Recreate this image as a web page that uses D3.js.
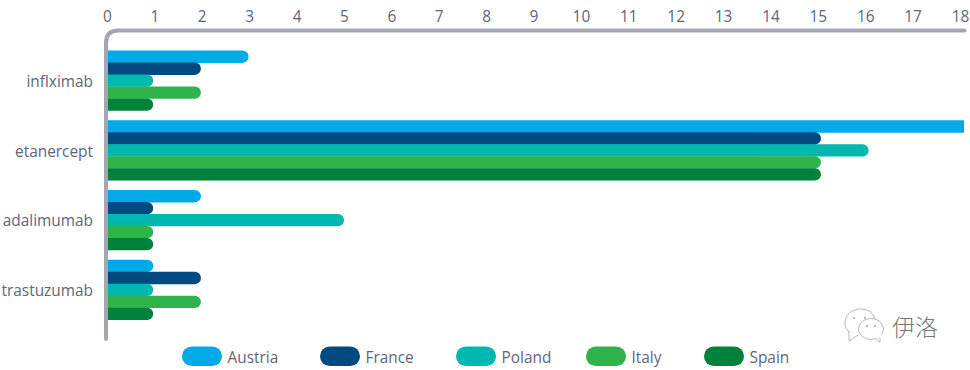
<!DOCTYPE html>
<html>
<head>
<meta charset="utf-8">
<script src="https://cdn.jsdelivr.net/npm/d3@7"></script>
<style>
  html, body { margin: 0; padding: 0; background: #fff; }
  svg { display: block; font-family: "Open Sans", "Noto Sans", sans-serif; }
</style>
</head>
<body>
<svg id="chart" width="970" height="370"></svg>
<script>
const drugs = ['inflximab', 'etanercept', 'adalimumab', 'trastuzumab'];
const countries = ['Austria', 'France', 'Poland', 'Italy', 'Spain'];
const colors = ['#00aae7', '#004a80', '#00b8b0', '#2fb44b', '#00813c'];
const austria = [3, 18, 2, 1];
const france = [2, 15, 1, 2];
const poland = [1, 16, 5, 1];
const italy = [2, 15, 1, 2];
const spain = [1, 15, 1, 1];
const seriesValues = [austria, france, poland, italy, spain];
const xTicks = d3.range(0, 19);

const TEXT_COLOR = '#60667a';
const AXIS_COLOR = '#a5a6b2';
const FONT_SIZE = '15.4px';

const svg = d3.select('#chart');

const X_SCALE = d3.scaleLinear().domain([0, 18]).range([105.5, 964]);
// tick labels sit slightly tighter than the bars, so the last one stays inside
const TICK_SCALE = d3.scaleLinear().domain([0, 18]).range([107, 960]);
const Y_SCALE = d3.scaleBand().domain(drugs).range([45.6, 324.6]).paddingInner(0.14).paddingOuter(0.07);
const INNER_SCALE = d3.scaleBand().domain(countries).range([0, Y_SCALE.bandwidth()]);

// bars end with a flat edge at the right limit of the plot
svg.append('clipPath').attr('id', 'plot-clip')
  .append('rect')
  .attr('x', X_SCALE(0))
  .attr('y', 0)
  .attr('width', X_SCALE(18) - X_SCALE(0))
  .attr('height', 370);

const barGroup = svg.append('g').attr('clip-path', 'url(#plot-clip)');

countries.forEach((country, s) => {
  barGroup.append('g')
    .selectAll('rect')
    .data(seriesValues[s])
    .join('rect')
    .attr('x', X_SCALE(0) - 10)
    .attr('y', (d, i) => Y_SCALE(drugs[i]) + INNER_SCALE(country))
    .attr('width', d => X_SCALE(d) - X_SCALE(0) + 10 + (d === 18 ? 8 : 0))
    .attr('height', INNER_SCALE.bandwidth() + 0.4)
    .attr('rx', 6)
    .attr('fill', colors[s]);
});

// axis frame, rounded at the top left corner
const frame = d3.path();
frame.moveTo(106, 339);
frame.lineTo(106, 43);
frame.quadraticCurveTo(106, 30.5, 118, 30.5);
frame.lineTo(964.5, 30.5);
svg.append('path')
  .attr('d', frame.toString())
  .attr('fill', 'none')
  .attr('stroke', AXIS_COLOR)
  .attr('stroke-width', 4)
  .attr('stroke-linecap', 'round');

const xAxis = svg.append('g')
  .attr('transform', 'translate(0,21.5)')
  .call(d3.axisTop(TICK_SCALE).tickValues(xTicks).tickFormat(d3.format('d')).tickSize(0).tickPadding(0));
xAxis.select('.domain').remove();
xAxis.selectAll('text')
  .attr('fill', TEXT_COLOR)
  .style('font-size', FONT_SIZE)
  .style('font-family', '"Open Sans", sans-serif');

const yAxis = svg.append('g')
  .attr('transform', 'translate(93,1.5)')
  .call(d3.axisLeft(Y_SCALE).tickSize(0).tickPadding(0));
yAxis.select('.domain').remove();
yAxis.selectAll('text')
  .attr('fill', TEXT_COLOR)
  .style('font-size', FONT_SIZE)
  .style('font-family', '"Open Sans", sans-serif');

// legend
const legendX = [182, 320, 456, 586, 704];
const legend = svg.append('g')
  .selectAll('g')
  .data(countries)
  .join('g')
  .attr('transform', (d, i) => `translate(${legendX[i]},346.5)`);

legend.append('rect')
  .attr('width', 40)
  .attr('height', 19.5)
  .attr('rx', 9.75)
  .attr('fill', (d, i) => colors[i]);

legend.append('text')
  .text(d => d)
  .attr('x', 45.5)
  .attr('y', 16.5)
  .attr('fill', TEXT_COLOR)
  .style('font-size', FONT_SIZE);

// watermark
const mark = svg.append('g')
  .attr('transform', 'translate(0,-10)')
  .attr('fill', '#fff')
  .attr('stroke', '#9a9a9a')
  .attr('stroke-width', 0.7);
mark.append('path').attr('d', 'M 856 346 C 848 343 845 338 845 333 C 845 325 852 319 860 319 C 868 319 874 323 875 330');
mark.append('path').attr('d', 'M 849 341 L 849 351 L 858 345');
mark.append('ellipse').attr('cx', 871).attr('cy', 339).attr('rx', 12.5).attr('ry', 10.5);
mark.append('path').attr('d', 'M 876 349 L 880 342 L 881 346').attr('stroke', 'none');
mark.append('path').attr('d', 'M 876 349.3 L 880 352.5 L 880 347.5');
[[854, 328], [865, 328], [867, 336], [875, 336]].forEach(p => {
  mark.append('circle').attr('cx', p[0]).attr('cy', p[1]).attr('r', 0.9).attr('fill', '#9a9a9a').attr('stroke', 'none');
});
svg.append('text')
  .text('伊洛')
  .attr('x', 892)
  .attr('y', 336)
  .attr('fill', '#777')
  .style('font-family', '"Noto Sans CJK SC"')
  .style('font-weight', '300')
  .style('font-size', '23px');
</script>
</body>
</html>
